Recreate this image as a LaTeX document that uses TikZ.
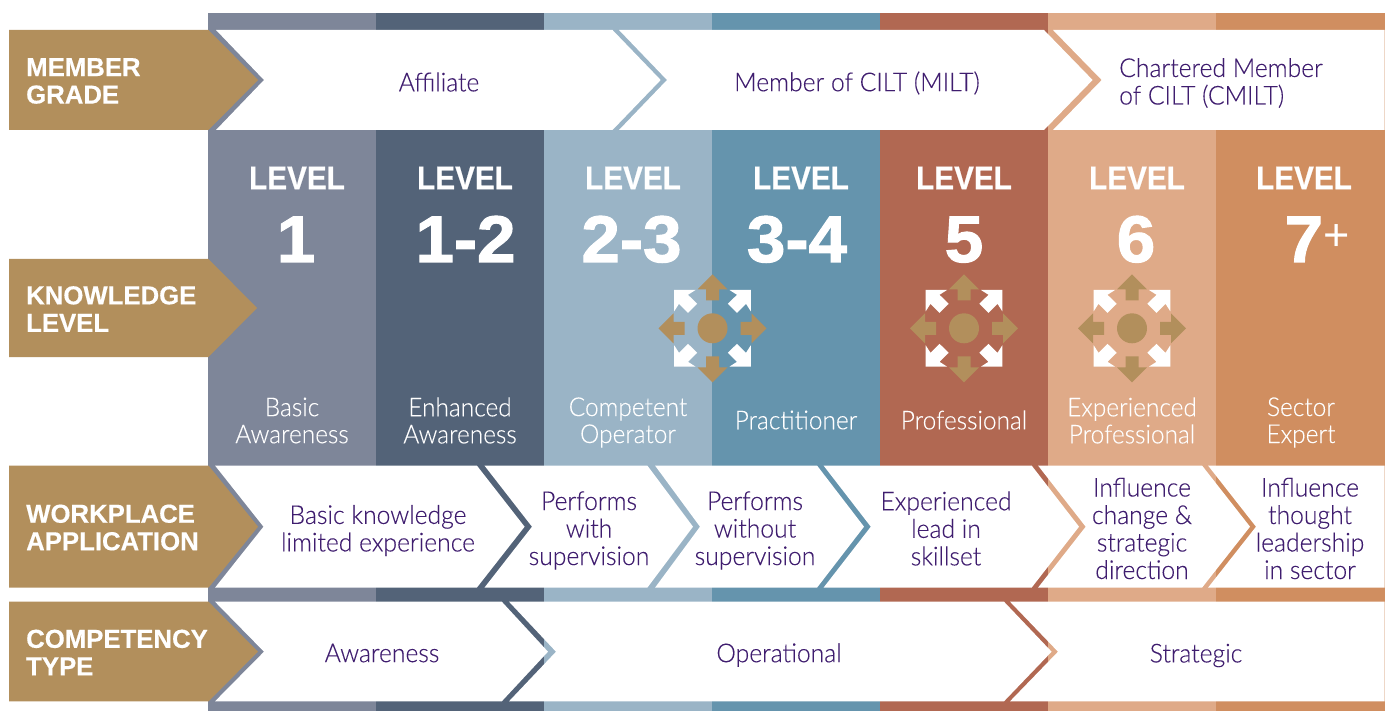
\documentclass[tikz,border=0pt]{standalone}
\usepackage{fontspec}
\setmainfont{Liberation Sans}
\newfontfamily\lightf[FakeStretch=0.95,FakeBold=0.2]{Lato Light}
\newfontfamily\lightlab[FakeStretch=0.94,FakeBold=0.2]{Lato Light}
\newfontfamily\headf[FakeStretch=0.99,FakeBold=0.4]{Liberation Sans Bold}
\newfontfamily\levelf[FakeStretch=0.9,FakeBold=0.5]{Liberation Sans Bold}
\newfontfamily\numf[FakeBold=1.6,FakeStretch=1.05]{Liberation Sans Bold}
\newfontfamily\plusf{Liberation Sans}
\definecolor{cA}{HTML}{7E8699}
\definecolor{cB}{HTML}{536378}
\definecolor{cC}{HTML}{9AB4C6}
\definecolor{cD}{HTML}{6594AD}
\definecolor{cE}{HTML}{B16852}
\definecolor{cF}{HTML}{DFAA88}
\definecolor{cG}{HTML}{D08E60}
\definecolor{tanc}{HTML}{B28F5C}
\definecolor{purp}{HTML}{3F1D6F}
\tikzset{
  rowtitle/.style={anchor=west,align=left,text=white,font=\headf\fontsize{26}{27.5}\selectfont,inner sep=0pt},
  levelword/.style={text=white,font=\levelf\fontsize{33}{33}\selectfont,inner sep=0pt},
  levelnum/.style={anchor=base,text=white,font=\numf\fontsize{66}{66}\selectfont,inner sep=0pt},
  levellabel/.style={align=center,text=white,font=\lightlab\fontsize{26}{27}\selectfont,inner sep=0pt},
  rowtext/.style={align=center,text=purp,font=\lightf\fontsize{26}{27.5}\selectfont,inner sep=0pt},
  whitepiece/.style={fill=white,draw=none},
  tanpiece/.style={fill=tanc,draw=none},
}
\newcommand{\expertarrows}[2]{%
  \begin{scope}[shift={(#1,#2)}]
    \foreach \sx/\sy in {1/1,1/-1,-1/1,-1/-1}{
      \fill[white,xscale=\sx,yscale=\sy] (-38.3,-38.3) -- (-17,-38.3) -- (-24.5,-33.5) -- (-15.3,-24.5) -- (-24.5,-15.5) -- (-33.5,-24.5) -- (-38.3,-17) -- cycle;
    }
    \foreach \ang in {0,90,180,270}{
      \fill[tanc,rotate=\ang] (54,0) -- (39,15) -- (39,6.5) -- (28,6.5) -- (28,-6.5) -- (39,-6.5) -- (39,-15) -- cycle;
    }
    \fill[tanc] (0,0) circle (15);
  \end{scope}}
\begin{document}
\begin{tikzpicture}[x=1pt,y=-1pt]
\useasboundingbox (0,0) rectangle (1389,711);
% columns
\fill[cA] (208,13) rectangle (376,711);
\fill[cB] (376,13) rectangle (544,711);
\fill[cC] (544,13) rectangle (712,711);
\fill[cD] (712,13) rectangle (880,711);
\fill[cE] (880,13) rectangle (1048,711);
\fill[cF] (1048,13) rectangle (1216,711);
\fill[cG] (1216,13) rectangle (1385,711);
% row 1
\fill[whitepiece] (216,30) -- (264,80) -- (216,130) -- (612.5,130) -- (660.7,80) -- (612.5,30) -- cycle;
\fill[whitepiece] (619,30) -- (667,80) -- (619,130) -- (1044,130) -- (1092.6,80) -- (1044,30) -- cycle;
\fill[whitepiece] (1053,30) -- (1101.7,80) -- (1053,130) -- (1384.5,130) -- (1384.5,30) -- cycle;
% row 3
\fill[whitepiece] (215,465.5) -- (263.5,526.7) -- (215,587.7) -- (476.8,587.7) -- (524.6,526.7) -- (476.8,465.5) -- cycle;
\fill[whitepiece] (484.4,465.5) -- (532,526.7) -- (484.4,587.7) -- (647.3,587.7) -- (693,526.7) -- (647.3,465.5) -- cycle;
\fill[whitepiece] (655,465.5) -- (700,526.7) -- (655,587.7) -- (817,587.7) -- (864,526.7) -- (817,465.5) -- cycle;
\fill[whitepiece] (823.5,465.5) -- (870.8,526.7) -- (823.5,587.7) -- (1031.6,587.7) -- (1079,526.7) -- (1031.6,465.5) -- cycle;
\fill[whitepiece] (1038,465.5) -- (1085.7,526.7) -- (1038,587.7) -- (1202,587.7) -- (1250,526.7) -- (1202,465.5) -- cycle;
\fill[whitepiece] (1208,465.5) -- (1256,526.7) -- (1208,587.7) -- (1384.5,587.7) -- (1384.5,465.5) -- cycle;
% row 4
\fill[whitepiece] (215,601.7) -- (264,651.7) -- (215,701.3) -- (501.8,701.3) -- (548,651.7) -- (501.8,601.7) -- cycle;
\fill[whitepiece] (509,601.7) -- (556,651.7) -- (509,701.3) -- (1004,701.3) -- (1051.6,651.7) -- (1004,601.7) -- cycle;
\fill[whitepiece] (1010,601.7) -- (1058,651.7) -- (1010,701.3) -- (1384.5,701.3) -- (1384.5,601.7) -- cycle;
% tan pentagons
\fill[tanpiece] (9,30) -- (208.5,30) -- (258,80) -- (208.5,130) -- (9,130) -- cycle;
\fill[tanpiece] (9,259) -- (208.5,259) -- (257,308) -- (208.5,357) -- (9,357) -- cycle;
\fill[tanpiece] (9,465.5) -- (208.5,465.5) -- (258,526.7) -- (208.5,587.7) -- (9,587.7) -- cycle;
\fill[tanpiece] (9,601.7) -- (208.5,601.7) -- (258,651.7) -- (208.5,701.3) -- (9,701.3) -- cycle;
% icons
\expertarrows{712.5}{328.3}
\expertarrows{964}{328.3}
\expertarrows{1132}{328.3}
% row titles
\node[rowtitle] (tA) at (26,81) {MEMBER\\GRADE};
\node[rowtitle] (tB) at (26,309) {KNOWLEDGE\\LEVEL};
\node[rowtitle] (tC) at (26,527.5) {WORKPLACE\\APPLICATION};
\node[rowtitle] (tD) at (26,652.5) {COMPETENCY\\TYPE};
% level words
\node[levelword] (w1) at (297,178) {LEVEL};
\node[levelword] (w2) at (465,178) {LEVEL};
\node[levelword] (w3) at (633,178) {LEVEL};
\node[levelword] (w4) at (801,178) {LEVEL};
\node[levelword] (w5) at (964,178) {LEVEL};
\node[levelword] (w6) at (1137,178) {LEVEL};
\node[levelword] (w7) at (1304,178) {LEVEL};
% level numbers
\node[levelnum] (n1) at (296,262) {1};
\node[levelnum] (n2) at (465.5,262) {1-2};
\node[levelnum] (n3) at (631.5,262) {2-3};
\node[levelnum] (n4) at (797,262) {3-4};
\node[levelnum] (n5) at (964,262) {5};
\node[levelnum] (n6) at (1136,262) {6};
\node[levelnum] (n7) at (1317,262) {7\raisebox{11pt}{\plusf\fontsize{45}{45}\selectfont +}};
% level labels
\node[levellabel] (l1) at (292,420.5) {Basic\\Awareness};
\node[levellabel] (l2) at (460,420.5) {Enhanced\\Awareness};
\node[levellabel] (l3) at (628,422.5) {Competent\\Operator};
\node[levellabel] (l4) at (796,420) {Practitioner};
\node[levellabel] (l5) at (964,420) {Professional};
\node[levellabel] (l6) at (1132,420.5) {Experienced\\Professional};
\node[levellabel] (l7) at (1301,422.5) {Sector\\Expert};
% row 1 text
\node[rowtext] (r1a) at (439,82) {Affiliate};
\node[rowtext] (r1b) at (857,83) {Member of CILT (MILT)};
\node[rowtext,anchor=west,align=left] (r1c) at (1119,83) {Chartered Member\\of CILT (CMILT)};
% row 3 text
\node[rowtext] (r3a) at (378,530.5) {Basic knowledge\\limited experience};
\node[rowtext] (r3b) at (589,530.5) {Performs\\with\\supervision};
\node[rowtext] (r3c) at (755,530.5) {Performs\\without\\supervision};
\node[rowtext] (r3d) at (946,528.5) {Experienced\\lead in\\skillset};
\node[rowtext] (r3e) at (1142,528.5) {Influence\\change \&\\strategic\\direction};
\node[rowtext] (r3f) at (1310,528.5) {Influence\\thought\\leadership\\in sector};
% row 4 text
\node[rowtext] (r4a) at (382,653) {Awareness};
\node[rowtext] (r4b) at (779,655) {Operational};
\node[rowtext] (r4c) at (1196,655.5) {Strategic};
\end{tikzpicture}
\end{document}
